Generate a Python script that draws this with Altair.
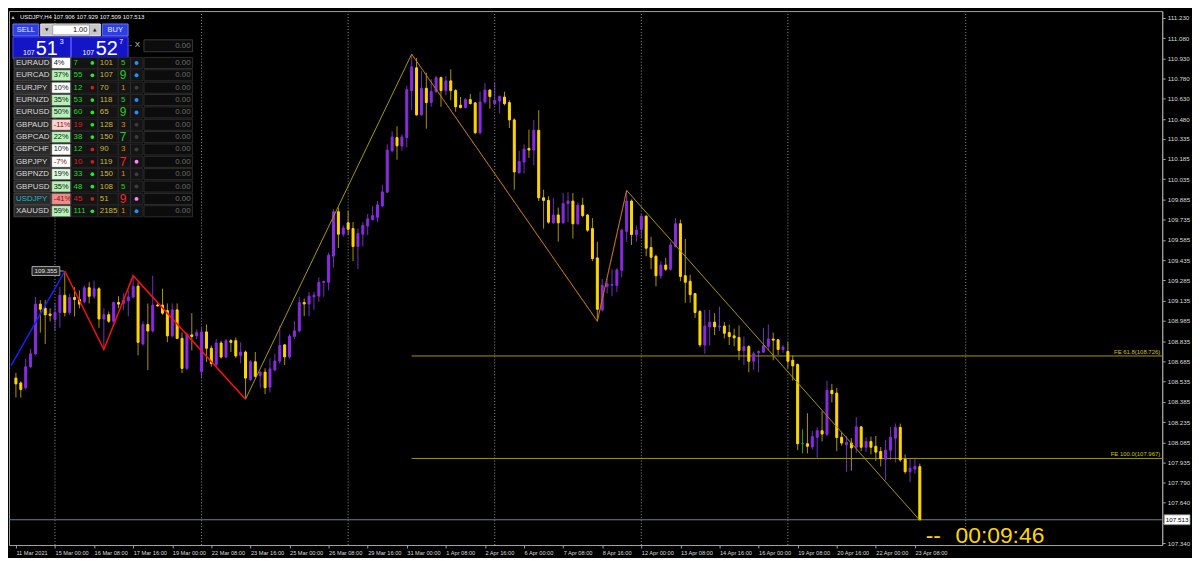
import altair as alt
import pandas as pd

# ------------------------------------------------------------------ data
SYMBOL = "USDJPY"
TIMEFRAME = "H4"

# H4 bars, index 0 = 15 Mar 2021 00:00 (weekends skipped)
bar_index = list(range(-8, 178))
opens = [108.562, 108.526, 108.490, 108.646, 108.742, 109.110, 109.079, 109.036,
         108.995, 109.048, 109.175, 109.048, 109.159, 109.144, 109.127, 109.231, 109.168, 109.224,
         109.000, 109.031, 108.983, 109.122, 109.115, 109.135, 109.163, 109.243, 108.815, 108.959,
         108.911, 109.103, 109.103, 109.062, 108.875, 109.067, 108.856, 108.634, 108.882, 108.875,
         108.610, 108.904, 108.783, 108.663, 108.822, 108.718, 108.839, 108.839, 108.730, 108.755,
         108.551, 108.683, 108.582, 108.606, 108.496, 108.623, 108.688, 108.808, 108.719, 108.871,
         108.912, 109.121, 109.111, 109.164, 109.169, 109.270, 109.272, 109.465, 109.794, 109.628,
         109.712, 109.669, 109.537, 109.628, 109.688, 109.736, 109.753, 109.837, 109.939, 110.246,
         110.343, 110.282, 110.343, 110.691, 110.860, 110.511, 110.708, 110.602, 110.684, 110.787,
         110.691, 110.763, 110.691, 110.583, 110.566, 110.624, 110.600, 110.379, 110.607, 110.695,
         110.594, 110.614, 110.643, 110.602, 110.474, 110.082, 110.162, 110.263, 110.251, 110.397,
         109.897, 109.878, 109.712, 109.770, 109.712, 109.854, 109.873, 109.705, 109.842, 109.770,
         109.669, 109.452, 109.067, 109.241, 109.250, 109.248, 109.361, 109.649, 109.873, 109.625,
         109.664, 109.760, 109.529, 109.464, 109.320, 109.399, 109.368, 109.536, 109.705, 109.320,
         109.279, 109.188, 109.055, 108.807, 108.942, 108.976, 108.940, 108.947, 108.899, 108.875,
         108.863, 108.767, 108.795, 108.687, 108.750, 108.754, 108.798, 108.851, 108.846, 108.774,
         108.759, 108.694, 108.663, 108.076, 108.076, 108.052, 108.124, 108.172, 108.146, 108.471,
         108.451, 108.124, 108.069, 108.081, 108.050, 108.201, 108.050, 108.093, 108.057, 108.019,
         107.961, 108.028, 108.117, 108.197, 107.961, 107.869, 107.889, 107.906]
highs = [108.600, 108.538, 108.706, 108.779, 109.163, 109.139, 109.139, 109.079,
         109.115, 109.236, 109.355, 109.187, 109.236, 109.211, 109.248, 109.272, 109.284, 109.236,
         109.079, 109.055, 109.127, 109.168, 109.187, 109.211, 109.320, 109.272, 108.983, 109.115,
         109.320, 109.115, 109.224, 109.115, 109.115, 109.115, 108.899, 108.899, 109.043, 108.923,
         108.935, 108.959, 108.803, 108.851, 108.839, 108.851, 108.851, 108.863, 108.827, 108.767,
         108.695, 108.755, 108.611, 108.635, 108.707, 108.743, 108.948, 108.815, 108.888, 108.984,
         109.164, 109.152, 109.200, 109.200, 109.308, 109.284, 109.489, 109.813, 109.825, 109.693,
         109.801, 109.717, 109.669, 109.717, 109.777, 109.837, 109.874, 109.994, 110.294, 110.391,
         110.427, 110.367, 110.727, 110.961, 110.932, 110.836, 110.824, 110.775, 110.799, 110.795,
         110.799, 110.848, 110.703, 110.643, 110.636, 110.667, 110.607, 110.683, 110.746, 110.703,
         110.751, 110.655, 110.683, 110.619, 110.486, 110.246, 110.294, 110.402, 110.474, 110.546,
         109.957, 109.909, 109.897, 109.825, 109.933, 109.938, 109.933, 109.861, 109.897, 109.777,
         109.746, 109.572, 109.296, 109.296, 109.368, 109.375, 109.669, 109.952, 109.885, 109.693,
         109.777, 109.770, 109.608, 109.476, 109.428, 109.452, 109.572, 109.746, 109.736, 109.592,
         109.327, 109.192, 109.067, 109.067, 109.067, 109.043, 109.091, 108.976, 108.959, 108.928,
         108.952, 108.870, 108.807, 108.759, 108.767, 108.935, 108.959, 108.899, 108.851, 108.807,
         108.831, 108.730, 108.670, 108.182, 108.302, 108.172, 108.197, 108.317, 108.543, 108.519,
         108.490, 108.158, 108.134, 108.117, 108.273, 108.206, 108.124, 108.129, 108.134, 108.052,
         108.105, 108.201, 108.225, 108.225, 107.997, 107.966, 107.973, 107.929]
lows = [108.418, 108.418, 108.478, 108.634, 108.730, 108.899, 108.815, 108.983,
        108.911, 108.935, 109.019, 109.031, 109.019, 109.079, 109.115, 109.115, 109.151, 108.935,
        108.774, 108.971, 108.971, 109.079, 109.067, 109.019, 109.151, 108.730, 108.803, 108.622,
        108.899, 109.091, 109.031, 108.827, 108.863, 108.851, 108.598, 108.622, 108.767, 108.851,
        108.562, 108.682, 108.646, 108.646, 108.706, 108.711, 108.755, 108.711, 108.670, 108.406,
        108.539, 108.563, 108.491, 108.443, 108.455, 108.611, 108.671, 108.659, 108.707, 108.851,
        108.900, 109.020, 109.020, 109.068, 109.128, 109.164, 109.212, 109.381, 109.525, 109.609,
        109.621, 109.429, 109.369, 109.537, 109.621, 109.729, 109.717, 109.825, 109.934, 110.234,
        110.179, 110.246, 110.270, 110.547, 110.506, 110.506, 110.410, 110.571, 110.674, 110.571,
        110.655, 110.619, 110.535, 110.559, 110.559, 110.588, 110.367, 110.367, 110.594, 110.558,
        110.582, 110.522, 110.582, 110.414, 109.957, 110.077, 110.077, 110.193, 110.138, 109.873,
        109.669, 109.705, 109.705, 109.572, 109.705, 109.717, 109.596, 109.697, 109.753, 109.645,
        109.428, 108.983, 109.055, 109.188, 109.168, 109.200, 109.308, 109.572, 109.548, 109.572,
        109.596, 109.464, 109.368, 109.241, 109.296, 109.356, 109.356, 109.529, 109.279, 109.120,
        109.120, 109.007, 108.791, 108.742, 108.803, 108.880, 108.911, 108.856, 108.807, 108.798,
        108.694, 108.658, 108.605, 108.622, 108.605, 108.750, 108.767, 108.694, 108.735, 108.750,
        108.634, 108.543, 108.028, 108.004, 108.004, 108.033, 107.973, 108.093, 108.134, 108.382,
        108.021, 108.062, 107.869, 107.877, 108.009, 108.021, 108.014, 107.997, 107.949, 107.908,
        107.805, 107.956, 107.937, 107.942, 107.853, 107.792, 107.853, 107.509]
closes = [108.519, 108.478, 108.646, 108.742, 109.110, 109.072, 109.031, 109.026,
          109.048, 109.175, 109.048, 109.159, 109.144, 109.110, 109.231, 109.168, 109.224, 109.000,
          109.031, 108.983, 109.122, 109.110, 109.139, 109.163, 109.240, 108.827, 108.959, 108.911,
          109.103, 109.096, 109.043, 108.875, 109.067, 108.856, 108.634, 108.887, 108.870, 108.899,
          108.904, 108.783, 108.670, 108.822, 108.718, 108.839, 108.827, 108.726, 108.755, 108.562,
          108.683, 108.575, 108.606, 108.491, 108.630, 108.688, 108.803, 108.719, 108.871, 108.912,
          109.121, 109.111, 109.169, 109.176, 109.272, 109.277, 109.472, 109.794, 109.628, 109.674,
          109.664, 109.537, 109.633, 109.693, 109.741, 109.765, 109.845, 109.941, 110.251, 110.347,
          110.282, 110.347, 110.698, 110.867, 110.511, 110.708, 110.602, 110.684, 110.787, 110.691,
          110.763, 110.691, 110.571, 110.566, 110.624, 110.595, 110.379, 110.607, 110.695, 110.647,
          110.619, 110.647, 110.594, 110.474, 110.089, 110.166, 110.258, 110.251, 110.397, 109.897,
          109.878, 109.717, 109.770, 109.712, 109.854, 109.873, 109.705, 109.842, 109.765, 109.657,
          109.447, 109.072, 109.248, 109.260, 109.255, 109.363, 109.657, 109.873, 109.625, 109.657,
          109.760, 109.524, 109.457, 109.320, 109.399, 109.368, 109.548, 109.705, 109.315, 109.272,
          109.180, 109.048, 108.808, 108.947, 108.976, 108.942, 108.947, 108.894, 108.870, 108.860,
          108.767, 108.795, 108.687, 108.742, 108.759, 108.803, 108.851, 108.843, 108.774, 108.791,
          108.687, 108.653, 108.076, 108.076, 108.057, 108.129, 108.172, 108.148, 108.471, 108.447,
          108.122, 108.081, 108.086, 108.045, 108.201, 108.050, 108.093, 108.050, 108.014, 107.966,
          108.028, 108.124, 108.197, 107.956, 107.869, 107.894, 107.908, 107.513]
ask_price = 107.527
lot_size = 1.00
countdown = "00:09:46"

tick_bars = list(range(-8, 177, 8))
tick_labels = ["11 Mar 2021", "15 Mar 00:00", "16 Mar 08:00", "17 Mar 16:00", "19 Mar 00:00",
               "22 Mar 08:00", "23 Mar 16:00", "25 Mar 00:00", "26 Mar 08:00", "29 Mar 16:00",
               "31 Mar 00:00", "1 Apr 08:00", "2 Apr 16:00", "6 Apr 00:00", "7 Apr 08:00",
               "8 Apr 16:00", "12 Apr 00:00", "13 Apr 08:00", "14 Apr 16:00", "16 Apr 00:00",
               "19 Apr 08:00", "20 Apr 16:00", "22 Apr 00:00", "23 Apr 08:00"]
price_ticks = [111.230, 111.080, 110.930, 110.780, 110.630, 110.480, 110.335, 110.185,
               110.035, 109.885, 109.735, 109.585, 109.435, 109.285, 109.135, 108.985,
               108.835, 108.685, 108.535, 108.385, 108.235, 108.085, 107.935, 107.790,
               107.640, 107.490, 107.340]
week_grid = [0, 30, 60, 90, 120, 150, 186.4]

# zigzag / fibo expansion points (bar index, price)
zz_blue_bar = [-9, 2]
zz_blue_price = [108.655, 109.355]
zz_red_bar = [2, 10, 16, 39]
zz_red_price = [109.355, 108.774, 109.320, 108.406]
zz_olive_bar = [39, 73, 111, 117, 177]
zz_olive_price = [108.406, 110.961, 108.983, 109.952, 107.509]
fe_bar = [73, 111, 117]
fe_price = [110.961, 108.983, 109.952]
fe_ratio = [61.8, 100.0]
fe_level = [108.726, 107.967]

# currency-strength dashboard
pairs = ["EURAUD", "EURCAD", "EURJPY", "EURNZD", "EURUSD", "GBPAUD", "GBPCAD",
         "GBPCHF", "GBPJPY", "GBPNZD", "GBPUSD", "USDJPY", "XAUUSD"]
pcts = [4, 37, 10, 35, 50, -11, 22, 10, -7, 19, 35, -41, 59]
strength = [7, 55, 12, 53, 60, 19, 38, 12, 10, 33, 48, 45, 111]
strength_up = [1, 1, 1, 1, 1, 0, 1, 1, 0, 1, 1, 0, 1]
trend_up = [1, 1, 0, 1, 1, 1, 1, 0, 0, 1, 1, 0, 1]
pips = [101, 107, 70, 118, 65, 128, 150, 90, 119, 150, 108, 51, 2185]
score = [5, 9, 1, 5, 9, 3, 7, 3, 7, 1, 5, 9, 1]
score_dir = [1, 1, 0, 1, 1, 0, 1, 0, -1, 0, 1, -1, 0]
signal = [1, 1, 0, 1, 1, 0, 0, 0, -1, 0, 0, -1, 1]
lots = [0.0] * 13

# ------------------------------------------------------------------ layout
W, H = 1162, 538
X0, X1 = -8.4, 225.6
Y0, Y1 = 107.326, 111.280
FONT = "Liberation Sans"
AX = "#A0A0A0"

xs = alt.Scale(domain=[X0, X1], nice=False, zero=False)
ys = alt.Scale(domain=[Y0, Y1], nice=False, zero=False)

label_js = "[" + ",".join("'%s'" % t for t in tick_labels) + "][(datum.value + 8) / 8]"
# the price label that sits under the current-price tag is hidden, as in the terminal
ylabel_js = "abs(datum.value - %.3f) < 0.05 ? '' : format(datum.value, '.3f')" % closes[-1]
xaxis = alt.Axis(values=tick_bars, labelExpr=label_js, title=None, grid=False,
                 labelAlign="left", labelBaseline="top", labelPadding=2, tickSize=3,
                 labelFontSize=5.7, labelFont=FONT, labelColor="#D8D8D8", tickColor=AX,
                 domainColor=AX, labelOverlap=False, labelFlush=False)
yaxis = alt.Axis(orient="right", values=price_ticks, labelExpr=ylabel_js, title=None, grid=False,
                 tickSize=3, labelPadding=2, labelFontSize=6.3, labelFont=FONT,
                 labelColor="#D8D8D8", tickColor=AX, domainColor=AX, labelOverlap=False,
                 labelFlush=False)


def PX(field):
    return alt.X(field, scale=xs, axis=xaxis)


def PY(field):
    return alt.Y(field, scale=ys, axis=yaxis)


df = pd.DataFrame({"bar": bar_index, "open": opens, "high": highs, "low": lows, "close": closes})
cbase = alt.Chart(df).transform_calculate(
    body="datum.close > datum.open ? '#8A2BE2' : (datum.close < datum.open ? '#FFD700' : '#1FA81F')",
    wick="datum.close > datum.open ? '#7030C0' : (datum.close < datum.open ? '#A89400' : '#1FA81F')",
)
wicks = cbase.mark_rule(strokeWidth=1).encode(
    x=PX("bar:Q"),
    y=PY("low:Q"),
    y2="high:Q",
    color=alt.Color("wick:N", scale=None),
)
bodies = cbase.mark_bar(size=2, strokeWidth=1).encode(
    x=PX("bar:Q"),
    y=PY("open:Q"),
    y2="close:Q",
    color=alt.Color("body:N", scale=None),
    stroke=alt.Stroke("body:N", scale=None),
)

grid = alt.Chart(pd.DataFrame({"bar": week_grid})).mark_rule(
    color="#909090", strokeWidth=1, strokeDash=[1, 2]).encode(
    x=PX("bar:Q"), y=alt.value(0), y2=alt.value(H))


def poly(bars, prices, color, width, dash=None, clip=False):
    d = pd.DataFrame({"bar": bars, "price": prices, "ord": list(range(len(bars)))})
    kw = dict(color=color, strokeWidth=width, clip=clip)
    if dash:
        kw["strokeDash"] = dash
    return alt.Chart(d).mark_line(**kw).encode(x=PX("bar:Q"), y=PY("price:Q"), order="ord:Q")


blue = poly(zz_blue_bar, zz_blue_price, "#1C1CFF", 1.5, clip=True)
red = poly(zz_red_bar, zz_red_price, "#FF1010", 1.5)
olive = poly(zz_olive_bar, zz_olive_price, "#A89800", 1)
fe_lines = poly(fe_bar, fe_price, "#FF2020", 1, dash=[1, 2])

fe_df = pd.DataFrame({"start": [fe_bar[0]] * len(fe_level), "level": fe_level,
                      "name": ["FE %.1f(%.3f)" % (r, l) for r, l in zip(fe_ratio, fe_level)]})
fe_h = alt.Chart(fe_df).mark_rule(color="#A89800", strokeWidth=1).encode(
    x=PX("start:Q"), x2=alt.value(W), y=PY("level:Q"))
fe_t = alt.Chart(fe_df).mark_text(align="right", baseline="bottom", dy=-1, font=FONT,
                                  fontSize=6, color="#D2C000").encode(
    x=alt.value(W - 2), y=PY("level:Q"), text="name:N")

last = pd.DataFrame({"price": [closes[-1]], "bar": [bar_index[-1]],
                     "txt": ["%.3f" % closes[-1]]})
cur_line = alt.Chart(last).mark_rule(color="#6C8294", strokeWidth=1).encode(
    x=alt.value(0), x2=alt.value(W), y=PY("price:Q"))
cur_box = alt.Chart(last).mark_point(shape="M2,-5H28V5H2Z", size=4, filled=True, fill="#FFFFFF",
                                     stroke="#8C8C8C", strokeWidth=0.8, opacity=1).encode(
    x=alt.value(W), y=PY("price:Q"))
cur_txt = alt.Chart(last).mark_text(font=FONT, fontSize=6.3, color="#000000", align="center",
                                    baseline="middle").encode(
    x=alt.value(W + 15), y=PY("price:Q"), text="txt:N")

hi = pd.DataFrame({"bar": [zz_red_bar[0]], "price": [zz_red_price[0]],
                   "txt": ["%.3f" % zz_red_price[0]]})
hi_box = alt.Chart(hi).mark_point(shape="M-33,-4.5H-5V4.5H-33ZM-5,0H-1", size=4, filled=True,
                                  fill="#2A2A2A", stroke="#C8C8C8", strokeWidth=0.8, opacity=1).encode(
    x=PX("bar:Q"), y=PY("price:Q"))
hi_txt = alt.Chart(hi).mark_text(font=FONT, fontSize=6.3, color="#E0E0E0", dx=-19,
                                 baseline="middle").encode(
    x=PX("bar:Q"), y=PY("price:Q"), text="txt:N")

timer_a = alt.Chart(last).mark_text(font=FONT, fontSize=23, color="#FFD700", align="left",
                                    baseline="alphabetic", dx=6).encode(
    x=PX("bar:Q"), y=alt.value(H - 2), text=alt.value("--"))
timer_b = alt.Chart(last).mark_text(font=FONT, fontSize=23, color="#FFD700", align="left",
                                    baseline="alphabetic", dx=36).encode(
    x=PX("bar:Q"), y=alt.value(H - 2), text=alt.value(countdown))

# ------------------------------------------------------------------ UI panel
ui = alt.Chart(pd.DataFrame({"k": [0]}))


def rect(x0, x1, y0, y1, fill, stroke, sw=1.0):
    return ui.mark_rect(fill=fill, stroke=stroke, strokeWidth=sw).encode(
        x=alt.value(x0), x2=alt.value(x1), y=alt.value(y0), y2=alt.value(y1))


def txt(x, y, s, size, color, align="center", font=FONT):
    return ui.mark_text(font=font, fontSize=size, color=color, align=align,
                        baseline="middle").encode(x=alt.value(x), y=alt.value(y), text=alt.value(s))


bid_s = "%.3f" % closes[-1]
ask_s = "%.3f" % ask_price
header = "%s,%s  %.3f %.3f %.3f %.3f" % (SYMBOL, TIMEFRAME, opens[-1], highs[-1], lows[-1], closes[-1])

panel = [
    txt(4, 6, "▴", 6, "#C0C0C0", font="DejaVu Sans"),
    txt(11, 6, header, 6, "#F0F0F0", align="left"),
    rect(4, 30, 13, 25, "#2E3FE0", "#6A78FF"), txt(17, 19, "SELL", 7.5, "#E8E8FF"),
    rect(32, 92, 13, 25, "#C8C8C8", "#E6E6E6"), rect(44, 81, 14, 24, "#FFFFFF", "#A0A0A0"),
    txt(38, 19, "▼", 4.5, "#202020", font="DejaVu Sans"),
    txt(86.5, 19, "▲", 4.5, "#202020", font="DejaVu Sans"),
    txt(79, 19, "%.2f" % lot_size, 7.5, "#101010", align="right"),
    rect(94, 120, 13, 25, "#2E3FE0", "#6A78FF"), txt(107, 19, "BUY", 7.5, "#E8E8FF"),
    rect(4, 62, 26, 48, "#1515C8", "#4A4AFF"),
    txt(20, 42, bid_s[:3], 7, "#FFFFFF"), txt(38, 38.5, bid_s[4:6], 20, "#FFFFFF"),
    txt(53, 31, bid_s[6], 7, "#FFFFFF"),
    rect(63, 120, 26, 48, "#1515C8", "#4A4AFF"),
    txt(80, 42, ask_s[:3], 7, "#FFFFFF"), txt(98.5, 38.5, ask_s[4:6], 20, "#FFFFFF"),
    txt(113, 31, ask_s[6], 7, "#FFFFFF"),
    txt(122.5, 34, "-", 8, "#B0B0B0"), txt(129.5, 34, "X", 8, "#C8C8C8"),
    rect(136, 185, 29, 41, "#0C0C0C", "#3A3A3A"), txt(183, 35, "0.00", 8, "#707070", align="right"),
]

tbl = pd.DataFrame({"row": list(range(len(pairs))), "pair": pairs, "pct": pcts,
                    "strength": strength, "s_up": strength_up, "t_up": trend_up, "pips": pips,
                    "score": score, "s_dir": score_dir, "signal": signal, "lot": lots})
tb = alt.Chart(tbl).transform_calculate(
    cy="52.3 + 12.45 * datum.row", y0="datum.cy - 5.6", y1="datum.cy + 5.6",
    pcol="datum.pair == '%s' ? '#1FB5C5' : '#D8D8D8'" % SYMBOL,
    pbg="datum.pct <= -30 ? '#F08C8C' : (datum.pct <= -10 ? '#FFD2D2' : (datum.pct < 15 ? '#FFFFFF' : (datum.pct < 21 ? '#DDF8DD' : '#B6F2B6')))",
    ptxt="datum.pct + '%'",
    pfg="datum.pct < 0 ? '#7A1515' : '#151515'",
    scol="datum.s_up == 1 ? '#1ED81E' : '#E02020'",
    tcol="datum.t_up == 1 ? '#22EE22' : '#C82020'",
    dcol="datum.s_dir == 1 ? '#22CC22' : (datum.s_dir == 0 ? '#E08A00' : '#FF2020')",
    dsize="datum.score >= 7 ? 12 : 8",
    gcol="datum.signal == 1 ? '#1E90FF' : (datum.signal == 0 ? '#3C3C3C' : '#FF85FF')",
    lottxt="format(datum.lot, '.2f')",
)
YC = alt.Y("cy:Q", scale=None, axis=None)
Y0c = alt.Y("y0:Q", scale=None, axis=None)


def tcell(x0, x1, fill, stroke):
    return tb.mark_rect(fill=fill, stroke=stroke, strokeWidth=0.8).encode(
        x=alt.value(x0), x2=alt.value(x1), y=Y0c, y2="y1:Q")


table = [
    tcell(5, 42, "#2A2A2A", "#505050"),
    tb.mark_rect(stroke="#505050", strokeWidth=0.8).encode(
        x=alt.value(43), x2=alt.value(62), y=Y0c, y2="y1:Q", fill=alt.Fill("pbg:N", scale=None)),
    tcell(63, 135, "#141414", "#2C2C2C"),
    tcell(136, 185, "#0C0C0C", "#383838"),
    tb.mark_rule(color="#2E2E2E").encode(x=alt.value(89.5), y=Y0c, y2="y1:Q"),
    tb.mark_rule(color="#2E2E2E").encode(x=alt.value(110), y=Y0c, y2="y1:Q"),
    tb.mark_rule(color="#2E2E2E").encode(x=alt.value(122.5), y=Y0c, y2="y1:Q"),
    tb.mark_text(font=FONT, fontSize=8, align="left", baseline="middle").encode(
        x=alt.value(7), y=YC, text="pair:N", color=alt.Color("pcol:N", scale=None)),
    tb.mark_text(font=FONT, fontSize=7.5, align="left", baseline="middle").encode(
        x=alt.value(45), y=YC, text="ptxt:N", color=alt.Color("pfg:N", scale=None)),
    tb.mark_text(font=FONT, fontSize=8, align="left", baseline="middle").encode(
        x=alt.value(65), y=YC, text="strength:N", color=alt.Color("scol:N", scale=None)),
    tb.mark_circle(size=14, opacity=1).encode(
        x=alt.value(84), y=YC, color=alt.Color("tcol:N", scale=None)),
    tb.mark_text(font=FONT, fontSize=8, align="left", baseline="middle", color="#CDB72A").encode(
        x=alt.value(91.5), y=YC, text="pips:N"),
    tb.mark_text(font=FONT, align="center", baseline="middle").encode(
        x=alt.value(115), y=YC, text="score:N", color=alt.Color("dcol:N", scale=None),
        size=alt.Size("dsize:Q", scale=None)),
    tb.mark_circle(size=16, opacity=1).encode(
        x=alt.value(128.5), y=YC, color=alt.Color("gcol:N", scale=None)),
    tb.mark_text(font=FONT, fontSize=8, align="right", baseline="middle", color="#6C6C6C").encode(
        x=alt.value(183), y=YC, text="lottxt:N"),
]

layers = [wicks, grid, fe_h, cur_line, bodies, olive, fe_lines, blue, red, fe_t,
          hi_box, hi_txt, cur_box, cur_txt, timer_a, timer_b] + panel + table

chart = alt.layer(*layers).properties(
    width=W, height=H, padding=0, background="#000000"
).configure_view(stroke=AX, strokeWidth=1).configure_axis(labelOverlap=False)

chart.save("out.html", embed_options={"renderer": "svg", "actions": False})
